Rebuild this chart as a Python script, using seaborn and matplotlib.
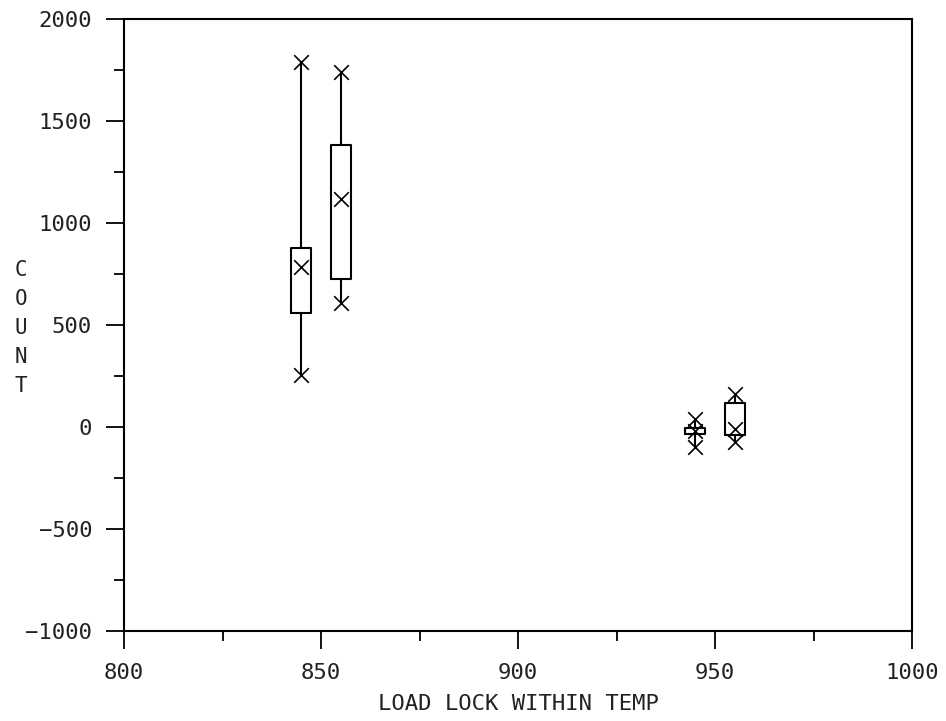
import numpy as np
import matplotlib
matplotlib.use('Agg')
import matplotlib.pyplot as plt
import seaborn as sns
import pandas as pd

# box statistics per temperature group
temps = [845, 855, 945, 955]
lo = [255, 608, -98, -75]
q1 = [559, 725, -35, -40]
med = [784, 1118, -20, -10]
q3 = [877, 1382, -5, 120]
hi = [1789, 1740, 40, 160]

xticks = [800, 850, 900, 950, 1000]
yticks = [-1000, -500, 0, 500, 1000, 1500, 2000]

sns.set_style('ticks')
plt.rcParams['font.family'] = ['DejaVu Sans Mono']

fig = plt.figure(figsize=(9.46, 7.21), dpi=100)
ax = fig.add_axes([124 / 946, 1 - 631 / 721, 788 / 946, 612 / 721])

stats = [dict(med=m, q1=a, q3=b, whislo=l, whishi=h, fliers=[])
         for m, a, b, l, h in zip(med, q1, q3, lo, hi)]
ax.bxp(stats, positions=temps, widths=5, showcaps=False, showfliers=False,
       manage_ticks=False,
       boxprops=dict(color='black', linewidth=1.5),
       whiskerprops=dict(color='black', linewidth=1.5),
       medianprops=dict(linewidth=0))

# X markers at min, median and max
marks = pd.DataFrame({'temp': temps * 3, 'count': lo + med + hi})
sns.scatterplot(data=marks, x='temp', y='count', marker='x', s=110,
                color='black', linewidth=1.2, ax=ax, legend=False)

ax.set_xlim(800, 1000)
ax.set_ylim(-1000, 2000)
ax.set_xticks(xticks)
ax.set_yticks(yticks)
ax.set_xticks([825, 875, 925, 975], minor=True)
ax.set_yticks([-750, -250, 250, 750, 1250, 1750], minor=True)
ax.tick_params(which='major', length=13, width=1.3, color='black',
               labelsize=16, labelcolor='#222222')
ax.tick_params(which='minor', length=7, width=1.3, color='black')
ax.tick_params(axis='x', pad=10)
ax.tick_params(axis='y', pad=10)
for s in ax.spines.values():
    s.set_visible(True)
    s.set_linewidth(1.5)
    s.set_color('black')

ax.set_xlabel('LOAD LOCK WITHIN TEMP', fontsize=16, labelpad=8,
              color='#222222')
ax.set_ylabel('')
for i, ch in enumerate('COUNT'):
    fig.text(21 / 946, 1 - (270 + i * 29) / 721, ch, fontsize=15,
             ha='center', va='center', color='#222222')

fig.savefig('out.png', dpi=100)
